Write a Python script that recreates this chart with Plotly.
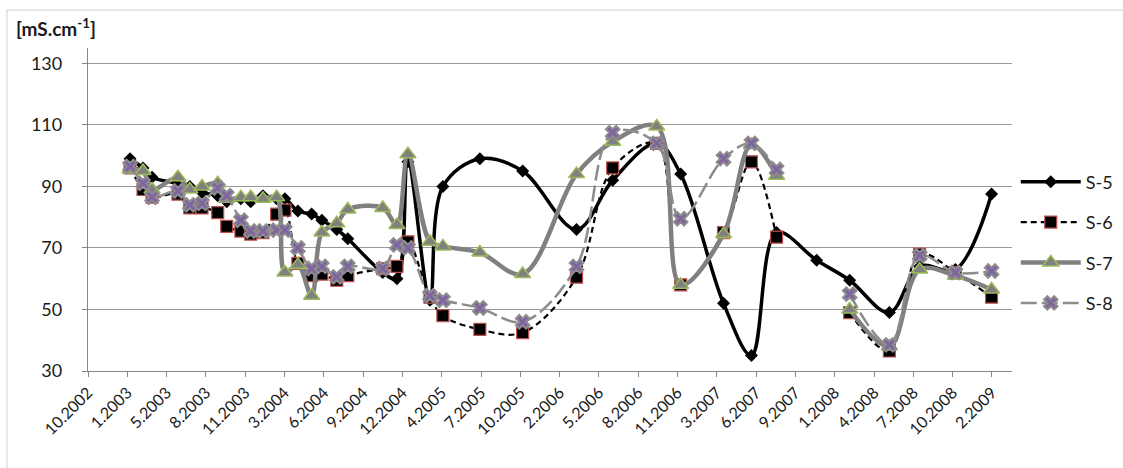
import pandas as pd
import plotly.graph_objects as go

# ---------------- data ----------------
dates = ["2003-02-05", "2003-03-10", "2003-04-02", "2003-06-07", "2003-07-07", "2003-08-07",
         "2003-09-16", "2003-10-09", "2003-11-14", "2003-12-09", "2004-01-09", "2004-02-13",
         "2004-03-05", "2004-04-07", "2004-05-12", "2004-06-07", "2004-07-15", "2004-08-12",
         "2004-11-09", "2004-12-15", "2005-01-12", "2005-03-09", "2005-04-11", "2005-07-14",
         "2005-10-31", "2006-03-17", "2006-06-17", "2006-10-07", "2006-12-07", "2007-03-26",
         "2007-06-05", "2007-08-08", "2007-11-18", "2008-02-10", "2008-05-21", "2008-08-06",
         "2008-11-05", "2009-02-05"]

s5 = [99, 96, 93, 91, 90, 88, 87, 85, 86, 85, 87, 86, 86, 82, 81, 79, 76, 73, 62, 60,
      98, 53, 90, 99, 95, 76, 92, 104, 94, 52, 35, 75, 66, 59.5, 49, 64, 63, 87.5]
s6 = [96, 89, 86.5, 87.5, 83, 83, 81.5, 77, 75.5, 74.5, 75, 81, 82.3, 65, 61, 61.5, 59.5, 61,
      63.3, 64, 72, 54, 48, 43.5, 42.5, 60.5, 96, 104, 58, 75, 98, 73.5, None, 49, 36.5, 68, 62, 54]
s7 = [95.5, 95, 89, 93, 89, 90, 91, 86, 86.5, 86.5, 86, 86.5, 62, 64.5, 54.5, 75, 78, 82.5,
      83, 77.5, 100.5, 72, 70.5, 68.5, 61.5, 94, 104.5, 109.5, 58, 74.5, 103.5, 93.5, None,
      50, 38, 63, 61, 56.5]
s8 = [96.5, 91, 86.5, 88.5, 84, 84.5, 89.5, 87, 79, 75.5, 75.5, 75.8, 75.8, 70, 63.3, 64,
      60.6, 64, 63.3, 71, 70, 54.5, 53, 50.5, 46, 64, 107.5, 104, 79.5, 99, 104, 95.5, None,
      55, 38.5, 67.5, 62, 62.5]

series_names = ["S-5", "S-6", "S-7", "S-8"]

x_tick_labels = ["10.2002", "1.2003", "5.2003", "8.2003", "11.2003", "3.2004", "6.2004",
                 "9.2004", "12.2004", "4.2005", "7.2005", "10.2005", "2.2006", "5.2006",
                 "8.2006", "11.2006", "3.2007", "6.2007", "9.2007", "1.2008", "4.2008",
                 "7.2008", "10.2008", "2.2009"]
x_axis_start = "2002-10-21"
x_axis_end = "2009-03-29"
x_tick_step_days = 100

y_ticks = [30, 50, 70, 90, 110, 130]
y_range = [30, 135]
y_unit = "[mS.cm<sup>-1</sup>]"

# ---------------- figure ----------------
x = pd.to_datetime(dates)
tick_dates = pd.date_range(start=x_axis_start, periods=len(x_tick_labels),
                           freq=f"{x_tick_step_days}D")

FONT = "Lato"
fig = go.Figure()

fig.add_trace(go.Scatter(
    x=x, y=s5, name=series_names[0], mode="lines+markers", legendgroup="a",
    line=dict(color="#000000", width=3.5, shape="spline", smoothing=1.0),
    marker=dict(symbol="diamond", size=10, color="#000000", line=dict(width=0)),
    connectgaps=False))
fig.add_trace(go.Scatter(
    x=x, y=s6, name=series_names[1], mode="lines+markers", legendgroup="b",
    line=dict(color="#000000", width=2.2, dash="6px,4px", shape="spline", smoothing=1.0),
    marker=dict(symbol="square", size=12, color="#000000", line=dict(color="#c0504d", width=1.2)),
    connectgaps=False))
fig.add_trace(go.Scatter(
    x=x, y=s7, name=series_names[2], mode="lines+markers", legendgroup="c",
    line=dict(color="#808080", width=4.5, shape="spline", smoothing=1.0),
    marker=dict(symbol="triangle-up", size=14, color="#808080", line=dict(color="#9bbb59", width=1.5)),
    connectgaps=False))
fig.add_trace(go.Scatter(
    x=x, y=s8, name=series_names[3], mode="lines+markers", legendgroup="d",
    line=dict(color="#8c8c8c", width=2.5, dash="16px,5px", shape="spline", smoothing=1.0),
    marker=dict(symbol="x", size=12, color="#8064a2", line=dict(color="#8c8c8c", width=2)),
    connectgaps=False))

fig.update_xaxes(
    type="date", automargin=False,
    range=[x_axis_start, x_axis_end],
    tickmode="array", tickvals=tick_dates, ticktext=x_tick_labels,
    tickangle=-45, ticks="outside", ticklen=5, tickcolor="#868686",
    showline=True, linecolor="#868686", linewidth=1.3,
    showgrid=False, zeroline=False,
    tickfont=dict(family=FONT, size=16, color="#1a1a1a"),
)
fig.update_yaxes(
    range=y_range, automargin=False,
    tickmode="array", tickvals=y_ticks, ticktext=[str(v) for v in y_ticks],
    ticks="outside", ticklen=5, tickcolor="#868686", ticklabelstandoff=16,
    showline=True, linecolor="#868686", linewidth=1.3,
    showgrid=True, gridcolor="#9a9a9a", gridwidth=1.3, zeroline=False,
    tickfont=dict(family=FONT, size=18, color="#1a1a1a"),
)

fig.add_annotation(
    text="<b>" + y_unit + "</b>", xref="paper", yref="paper",
    x=-0.0801, y=1.062, xanchor="left", yanchor="middle", showarrow=False,
    font=dict(family=FONT, size=19, color="#1a1a1a"))

# chart-area border
fig.add_shape(type="rect", xref="paper", yref="paper",
              x0=-0.0877, x1=1.25, y0=-0.5, y1=1.1176,
              line=dict(color="#d0d0d0", width=1), fillcolor="rgba(0,0,0,0)", layer="below")

fig.update_layout(
    width=1123, height=468,
    margin=dict(l=88, r=111, t=48, b=97, autoexpand=False),
    paper_bgcolor="white", plot_bgcolor="white",
    font=dict(family=FONT, size=18, color="#1a1a1a"),
    showlegend=True,
    legend=dict(xref="container", yref="container", x=0.9045, y=0.6506,
                xanchor="left", yanchor="top",
                font=dict(family=FONT, size=18, color="#1a1a1a"),
                itemwidth=60, tracegroupgap=14, bgcolor="rgba(0,0,0,0)"),
)

fig.write_html("out.html", config={"displayModeBar": False},
               post_script="document.body.style.margin='0';document.body.style.overflow='hidden';")
